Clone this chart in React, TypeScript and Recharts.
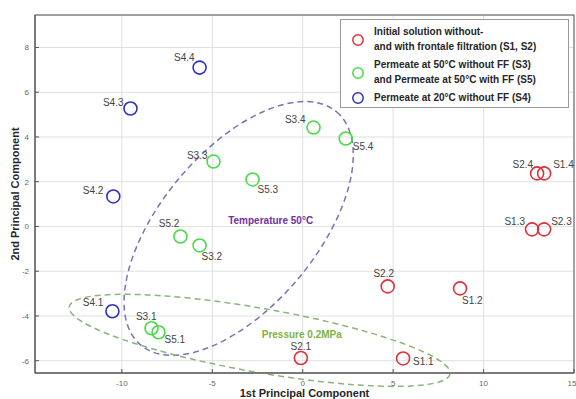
import {
  ScatterChart,
  Scatter,
  XAxis,
  YAxis,
  CartesianGrid,
  ReferenceArea,
  ReferenceDot,
} from "recharts";

// Scores (1st / 2nd principal component)
const INITIAL = [
  { name: "S1.1", x: 5.55, y: -5.9 },
  { name: "S2.1", x: -0.1, y: -5.88 },
  { name: "S2.2", x: 4.7, y: -2.68 },
  { name: "S1.2", x: 8.7, y: -2.77 },
  { name: "S1.3", x: 12.68, y: -0.13 },
  { name: "S2.3", x: 13.35, y: -0.13 },
  { name: "S2.4", x: 12.96, y: 2.37 },
  { name: "S1.4", x: 13.35, y: 2.37 },
];

const PERMEATE_50 = [
  { name: "S3.1", x: -8.36, y: -4.55 },
  { name: "S5.1", x: -7.97, y: -4.73 },
  { name: "S5.2", x: -6.76, y: -0.45 },
  { name: "S3.2", x: -5.7, y: -0.85 },
  { name: "S3.3", x: -4.93, y: 2.9 },
  { name: "S5.3", x: -2.77, y: 2.1 },
  { name: "S3.4", x: 0.6, y: 4.42 },
  { name: "S5.4", x: 2.38, y: 3.93 },
];

const PERMEATE_20 = [
  { name: "S4.1", x: -10.52, y: -3.79 },
  { name: "S4.2", x: -10.47, y: 1.34 },
  { name: "S4.3", x: -9.52, y: 5.27 },
  { name: "S4.4", x: -5.7, y: 7.1 },
];

const X_TICKS = [-10, -5, 0, 5, 10, 15];
const Y_TICKS = [-6, -4, -2, 0, 2, 4, 6, 8];
const X_DOMAIN = [-14.8, 15];
const Y_DOMAIN = [-6.55, 9.45];

// group ellipses: centre, half-axes (in axis units), rotation in degrees
const TEMP_ELLIPSE = { cx: -3.54, cy: -0.09, rx: 8.42, ry: 3.48, rot: -50 };
const PRESS_ELLIPSE = { cx: -2.38, cy: -5.09, rx: 10.69, ry: 1.43, rot: 10 };

const FONT = '"Liberation Sans", Arial, sans-serif';
const RED = "#e0303a";
const GREEN = "#46dc46";
const BLUE = "#2f2fc4";
const AXIS = "#555";
const GRID = "#e0e0e0";

// where each point's name sits relative to its marker
const LABEL_POS: Record<string, [number, number, "start" | "middle" | "end"]> = {
  "S1.1": [10, 3, "start"],
  "S2.1": [0, -12, "middle"],
  "S2.2": [-4, -13, "middle"],
  "S1.2": [2, 12, "start"],
  "S1.3": [-7, -8, "end"],
  "S2.3": [7, -8, "start"],
  "S2.4": [-4, -9, "end"],
  "S1.4": [9, -9, "start"],
  "S3.1": [5, -12, "end"],
  "S5.1": [6, 7, "start"],
  "S5.2": [-1, -13, "end"],
  "S3.2": [2, 11, "start"],
  "S3.3": [-6, -6, "end"],
  "S5.3": [5, 10, "start"],
  "S3.4": [-8, -8, "end"],
  "S5.4": [7, 8, "start"],
  "S4.1": [-9, -9, "end"],
  "S4.2": [-10, -6, "end"],
  "S4.3": [-7, -6, "end"],
  "S4.4": [-5, -10, "end"],
};

const makeShape = (color: string) => (p: any) => {
  const pos = LABEL_POS[p.payload?.name] ?? [6, -8, "start"];
  return (
    <g>
      <circle cx={p.cx} cy={p.cy} r={6.5} fill="none" stroke={color} strokeWidth={1.6} />
      <text
        x={p.cx + pos[0]}
        y={p.cy + pos[1]}
        textAnchor={pos[2]}
        dominantBaseline="central"
        fontSize={10}
        fontFamily={FONT}
        fill="#444"
      >
        {p.payload?.name}
      </text>
    </g>
  );
};

const ellipseShape = (rot: number, color: string) => (p: any) => {
  const cx = p.x + p.width / 2;
  const cy = p.y + p.height / 2;
  return (
    <ellipse
      cx={cx}
      cy={cy}
      rx={Math.abs(p.width) / 2}
      ry={Math.abs(p.height) / 2}
      transform={`rotate(${rot} ${cx} ${cy})`}
      fill="none"
      stroke={color}
      strokeWidth={1.5}
      strokeDasharray="6 4"
    />
  );
};

// plot frame (MATLAB-style box round the axes)
const boxShape = (p: any) => (
  <rect x={p.x} y={p.y} width={p.width} height={p.height} fill="none" stroke={AXIS} strokeWidth={1} />
);

const noteShape = (text: string, color: string) => (p: any) => (
  <text
    x={p.cx}
    y={p.cy}
    textAnchor="middle"
    dominantBaseline="central"
    fontSize={10}
    fontWeight={700}
    fontFamily={FONT}
    fill={color}
  >
    {text}
  </text>
);

const LEGEND = [
  { color: RED, lines: ["Initial solution without-", "and with frontale filtration (S1, S2)"] },
  { color: GREEN, lines: ["Permeate at 50°C without FF (S3)", "and Permeate at 50°C with FF (S5)"] },
  { color: BLUE, lines: ["Permeate at 20°C without FF (S4)"] },
];

function LegendBox() {
  return (
    <div
      style={{
        position: "absolute",
        left: 340,
        top: 19,
        width: 229,
        height: 89,
        boxSizing: "border-box",
        border: "1px solid #9a9a9a",
        background: "#fff",
        fontFamily: FONT,
        fontSize: 10,
        fontWeight: 700,
        color: "#262626",
        padding: "5px 0 0 0",
      }}
    >
      {LEGEND.map((l) => (
        <div
          key={l.color}
          style={{ display: "flex", alignItems: "center", marginBottom: 4 }}
        >
          <svg width={33} height={14} style={{ flex: "none" }}>
            <circle cx={17} cy={7} r={5.2} fill="none" stroke={l.color} strokeWidth={1.5} />
          </svg>
          <div style={{ lineHeight: "14.5px" }}>
            {l.lines.map((t) => (
              <div key={t}>{t}</div>
            ))}
          </div>
        </div>
      ))}
    </div>
  );
}

export default function App() {
  const tick = { fill: "#666", fontSize: 8, fontFamily: FONT };
  return (
    <div
      style={{
        position: "absolute",
        left: 0,
        top: 0,
        width: 576,
        height: 399,
        background: "#fff",
        overflow: "hidden",
      }}
    >
      <ScatterChart width={576} height={399} margin={{ top: 15, right: 2, bottom: 0, left: 0 }}>
        <CartesianGrid stroke={GRID} />
        <XAxis
          type="number"
          dataKey="x"
          domain={X_DOMAIN}
          ticks={X_TICKS}
          allowDataOverflow
          height={26}
          stroke={AXIS}
          tickSize={-4}
          tickMargin={11}
          tick={tick}
          label={(props: any) => {
            const vb = props.viewBox;
            return (
              <text
                x={vb.x + vb.width / 2}
                y={vb.y + 24}
                textAnchor="middle"
                fontSize={11}
                fontWeight={700}
                fontFamily={FONT}
                fill="#262626"
              >
                1st Principal Component
              </text>
            );
          }}
        />
        <YAxis
          type="number"
          dataKey="y"
          domain={Y_DOMAIN}
          ticks={Y_TICKS}
          allowDataOverflow
          width={35}
          stroke={AXIS}
          tickSize={-4}
          tickMargin={10}
          tick={tick}
          label={(props: any) => {
            const vb = props.viewBox;
            const x = vb.x + 15;
            const y = vb.y + vb.height / 2;
            return (
              <text
                x={x}
                y={y}
                transform={`rotate(-90 ${x} ${y})`}
                textAnchor="middle"
                dominantBaseline="central"
                fontSize={11}
                fontWeight={700}
                fontFamily={FONT}
                fill="#262626"
              >
                2nd Principal Component
              </text>
            );
          }}
        />
        <ReferenceArea
          x1={X_DOMAIN[0]}
          x2={X_DOMAIN[1]}
          y1={Y_DOMAIN[0]}
          y2={Y_DOMAIN[1]}
          ifOverflow="visible"
          shape={boxShape}
        />
        <ReferenceArea
          x1={TEMP_ELLIPSE.cx - TEMP_ELLIPSE.rx}
          x2={TEMP_ELLIPSE.cx + TEMP_ELLIPSE.rx}
          y1={TEMP_ELLIPSE.cy - TEMP_ELLIPSE.ry}
          y2={TEMP_ELLIPSE.cy + TEMP_ELLIPSE.ry}
          ifOverflow="visible"
          shape={ellipseShape(TEMP_ELLIPSE.rot, "#7b74b2")}
        />
        <ReferenceArea
          x1={PRESS_ELLIPSE.cx - PRESS_ELLIPSE.rx}
          x2={PRESS_ELLIPSE.cx + PRESS_ELLIPSE.rx}
          y1={PRESS_ELLIPSE.cy - PRESS_ELLIPSE.ry}
          y2={PRESS_ELLIPSE.cy + PRESS_ELLIPSE.ry}
          ifOverflow="visible"
          shape={ellipseShape(PRESS_ELLIPSE.rot, "#8db47a")}
        />
        <ReferenceDot
          x={-1.77}
          y={0.27}
          r={0}
          ifOverflow="visible"
          shape={noteShape("Temperature 50°C", "#7030a0")}
        />
        <ReferenceDot
          x={-0.05}
          y={-4.82}
          r={0}
          ifOverflow="visible"
          shape={noteShape("Pressure 0.2MPa", "#7cb342")}
        />
        <Scatter data={INITIAL} shape={makeShape(RED)} isAnimationActive={false} />
        <Scatter data={PERMEATE_50} shape={makeShape(GREEN)} isAnimationActive={false} />
        <Scatter data={PERMEATE_20} shape={makeShape(BLUE)} isAnimationActive={false} />
      </ScatterChart>
      <LegendBox />
    </div>
  );
}
